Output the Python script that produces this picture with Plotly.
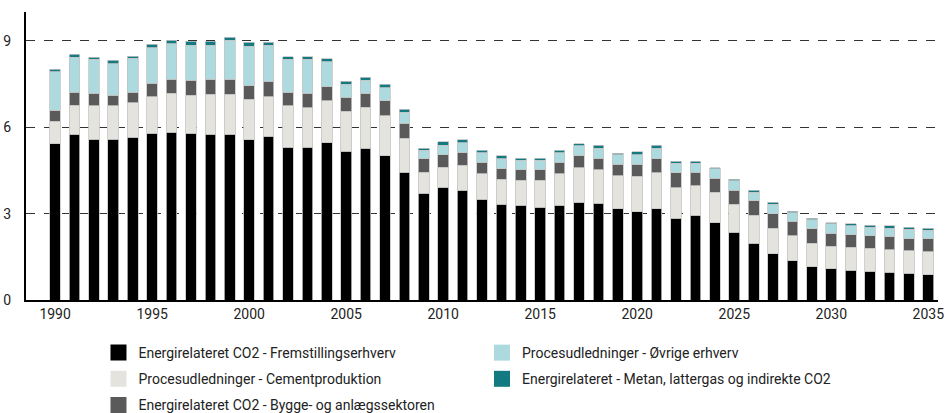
import plotly.graph_objects as go

# ==================== DATA ====================
aar = list(range(1990, 2036))

fremstilling = [5.42, 5.75, 5.58, 5.58, 5.65, 5.79, 5.83, 5.79, 5.75, 5.75,
                5.57, 5.68, 5.30, 5.30, 5.46, 5.16, 5.27, 5.01, 4.44, 3.70,
                3.91, 3.81, 3.50, 3.32, 3.29, 3.22, 3.29, 3.40, 3.36, 3.17,
                3.06, 3.17, 2.84, 2.95, 2.68, 2.35, 1.97, 1.60, 1.36, 1.15,
                1.08, 1.03, 1.00, 0.96, 0.93, 0.88]
cement = [0.78, 1.01, 1.16, 1.16, 1.20, 1.27, 1.35, 1.32, 1.39, 1.39,
          1.40, 1.38, 1.44, 1.37, 1.46, 1.39, 1.42, 1.39, 1.17, 0.74,
          0.70, 0.87, 0.88, 0.87, 0.87, 0.94, 1.09, 1.19, 1.16, 1.14,
          1.23, 1.24, 1.05, 1.01, 1.06, 0.97, 0.98, 0.90, 0.87, 0.82,
          0.78, 0.80, 0.79, 0.79, 0.78, 0.79]
bygge = [0.39, 0.46, 0.44, 0.37, 0.37, 0.46, 0.48, 0.52, 0.52, 0.52,
         0.47, 0.53, 0.48, 0.51, 0.49, 0.49, 0.49, 0.52, 0.52, 0.46,
         0.44, 0.44, 0.40, 0.37, 0.36, 0.36, 0.40, 0.42, 0.41, 0.40,
         0.42, 0.49, 0.52, 0.48, 0.49, 0.49, 0.49, 0.49, 0.50, 0.50,
         0.46, 0.44, 0.44, 0.45, 0.41, 0.45]
oevrige = [1.33, 1.21, 1.18, 1.10, 1.17, 1.24, 1.23, 1.21, 1.18, 1.36,
           1.37, 1.25, 1.14, 1.18, 0.87, 0.45, 0.45, 0.45, 0.39, 0.30,
           0.33, 0.34, 0.34, 0.34, 0.34, 0.34, 0.34, 0.34, 0.34, 0.34,
           0.34, 0.37, 0.34, 0.31, 0.33, 0.33, 0.30, 0.33, 0.30, 0.32,
           0.33, 0.30, 0.30, 0.30, 0.33, 0.30]
metan = [0.09, 0.11, 0.07, 0.11, 0.07, 0.12, 0.13, 0.15, 0.15, 0.10,
         0.14, 0.11, 0.09, 0.09, 0.10, 0.11, 0.11, 0.12, 0.10, 0.07,
         0.12, 0.11, 0.08, 0.11, 0.07, 0.07, 0.08, 0.07, 0.11, 0.05,
         0.10, 0.11, 0.07, 0.07, 0.03, 0.05, 0.07, 0.08, 0.05, 0.05,
         0.03, 0.07, 0.07, 0.07, 0.08, 0.07]

# navn, data, farve, hvilken legende-kolonne
serier = [
    ("Energirelateret CO2 - Fremstillingserhverv", fremstilling, "#000000", "legend"),
    ("Procesudledninger - Cementproduktion", cement, "#e5e3de", "legend"),
    ("Energirelateret CO2 - Bygge- og anlægssektoren", bygge, "#5a5a5a", "legend"),
    ("Procesudledninger - Øvrige erhverv", oevrige, "#acdadf", "legend2"),
    ("Energirelateret - Metan, lattergas og indirekte CO2", metan, "#147a82", "legend2"),
]

# ==================== FIGUR ====================
fig = go.Figure()
for navn, vaerdier, farve, leg in serier:
    fig.add_trace(go.Bar(
        x=aar, y=vaerdier, name=navn, showlegend=False,
        marker=dict(color=farve, line=dict(color="#c4c4c4", width=0.8)),
    ))
    # kun til legenden (større firkanter end bar-legenden giver)
    fig.add_trace(go.Scatter(
        x=[None], y=[None], mode="markers", name=navn, legend=leg, legendgroup=navn,
        marker=dict(symbol="square", size=16, color=farve),
    ))

legend_stil = dict(
    orientation="v", xref="container", yref="container",
    xanchor="left", yanchor="top", y=0.184,
    font=dict(size=14, color="#222222"),
    traceorder="grouped", tracegroupgap=5, itemsizing="trace",
    bgcolor="rgba(0,0,0,0)",
)

fig.update_layout(
    barmode="stack",
    bargap=0.45,
    width=947, height=413,
    margin=dict(l=26, r=9, t=12, b=113, autoexpand=False),
    plot_bgcolor="white", paper_bgcolor="white",
    font=dict(family="Roboto", size=14, color="#222222"),
    showlegend=True,
    legend=dict(legend_stil, x=0.104),
    legend2=dict(legend_stil, x=0.509),
)
fig.update_xaxes(
    range=[1988.5, 2035.5], tickmode="array",
    tickvals=list(range(1990, 2036, 5)),
    showline=True, linecolor="black", linewidth=2,
    showgrid=False, ticks="", automargin=False,
)
fig.update_yaxes(
    range=[0, 10], tickvals=[0, 3, 6, 9],
    showline=True, linecolor="black", linewidth=2,
    showgrid=True, gridcolor="#333333", griddash="dash", gridwidth=1,
    zeroline=False, ticks="", ticklabelstandoff=10, automargin=False,
)

fig.write_html("out.html", config={"displayModeBar": False})

# fjern browserens standardmargin, så figuren sidder i hjørnet
with open("out.html", encoding="utf-8") as f:
    html = f.read()
html = html.replace("<head>", "<head><style>body{margin:0;overflow:hidden}</style>", 1)
with open("out.html", "w", encoding="utf-8") as f:
    f.write(html)
